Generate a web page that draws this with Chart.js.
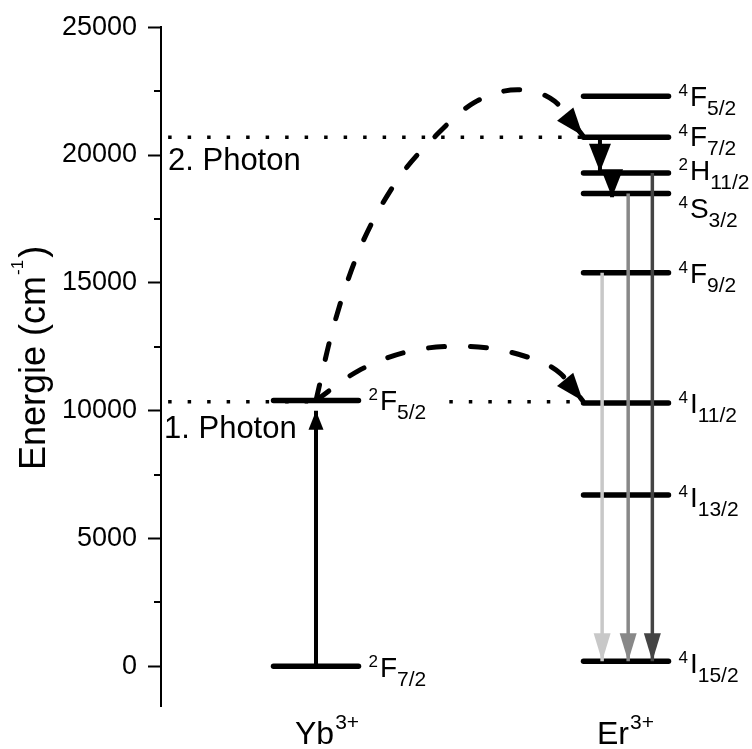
<!DOCTYPE html>
<html>
<head>
<meta charset="utf-8">
<script src="https://cdn.jsdelivr.net/npm/chart.js@4.4.0/dist/chart.umd.min.js"></script>
<style>
  html, body { margin: 0; padding: 0; background: #fff; }
  #wrap { width: 752px; height: 749px; }
</style>
</head>
<body>
<div id="wrap"><canvas id="chart" width="752" height="749"></canvas></div>
<script>
// Energieniveaus (cm-1)
const ybLevels = ['2F7/2', '2F5/2'];
const ybEnergies = [0, 10400];
const erLevels = ['4F5/2', '4F7/2', '2H11/2', '4S3/2', '4F9/2', '4I11/2', '4I13/2', '4I15/2'];
const erEnergies = [22300, 20700, 19300, 18500, 15400, 10300, 6700, 200];
const ions = ['Yb', 'Er'];
const ionCharges = ['3+', '3+'];

// Photonen (gepunktete Linien)
const photonLabels = ['1. Photon', '2. Photon'];
const photonEnergies = [10350, 20700];

// Anregung Yb 2F7/2 -> 2F5/2
const ybPumpFrom = 0;
const ybPumpTo = 10000;

// Energietransfer Yb -> Er (gestrichelte Kurven)
const transfer1X = [1.0, 1.135, 1.303, 1.471, 1.674, 1.787, 1.861];
const transfer1Y = [10400, 11550, 12330, 12520, 12130, 11470, 10380];
const transfer2X = [1.0, 1.05, 1.13, 1.25, 1.39, 1.51, 1.65, 1.77, 1.861];
const transfer2Y = [10400, 13000, 16000, 18800, 20800, 22050, 22550, 22100, 20750];

// strahlungslose Relaxation im Er
const relaxFrom = [20700, 19300];
const relaxTo = [19350, 18350];

// Emission nach 4I15/2
const emissionFrom = [15400, 18500, 19300];
const emissionTo = [200, 200, 200];

const yTicks = [0, 5000, 10000, 15000, 20000, 25000];
const yMinorTicks = [2500, 7500, 12500, 17500, 22500];

// Layout / Stil
const FONT = "'Liberation Sans', Arial, sans-serif";
const ionX = [1, 2];
const levelHalf = 0.137;
const relaxX = [1.916, 1.955];
const emissionX = [1.923, 2.007, 2.085];
const emissionColors = ['#c8c8c8', '#888888', '#444444'];
const photonSegments = [[[0.523, 1.0], [1.43, 1.861]], [[0.523, 1.861]]];
const photonLabelPos = [[3, 36], [7, 33]];
const ybLabelDy = [11, 10];
const erLabelDy = [10, 9, 7, 25, 10, 10, 12, 12];
const ionLabelDx = [-21, -29];

function pts(xs, ys) {
  return xs.map((x, i) => ({ x: x, y: ys[i] }));
}

const datasets = [];

// Niveaus
function addLevel(x, e) {
  datasets.push({
    data: pts([x - levelHalf, x + levelHalf], [e, e]),
    borderColor: '#000', borderWidth: 5.5, borderCapStyle: 'round', order: 4
  });
}
ybEnergies.forEach(e => addLevel(ionX[0], e));
erEnergies.forEach(e => addLevel(ionX[1], e));

// gepunktete Linien
photonEnergies.forEach((e, i) => {
  photonSegments[i].forEach(seg => {
    datasets.push({
      data: pts(seg, [e, e]),
      borderColor: '#000', borderWidth: 3.5, borderDash: [3.5, 16], borderCapStyle: 'butt', order: 6
    });
  });
});

// Anregungspfeil Yb
datasets.push({
  data: pts([ionX[0], ionX[0]], [ybPumpFrom, ybPumpTo]),
  borderColor: '#000', borderWidth: 4, order: 2, arrow: { len: 19, w: 15 }
});

// Emissionen
emissionFrom.forEach((e, i) => {
  datasets.push({
    data: pts([emissionX[i], emissionX[i]], [e, emissionTo[i]]),
    borderColor: emissionColors[i], borderWidth: 3.5, order: 2, arrow: { len: 28, w: 17 }
  });
});

// Relaxation
relaxFrom.forEach((e, i) => {
  datasets.push({
    data: pts([relaxX[i], relaxX[i]], [e, relaxTo[i]]),
    borderColor: '#000', borderWidth: 4, order: 1, arrow: { len: 28, w: 22 }
  });
});

// Transferkurven
[[transfer1X, transfer1Y], [transfer2X, transfer2Y]].forEach(c => {
  datasets.push({
    data: pts(c[0], c[1]),
    borderColor: '#000', borderWidth: 5, borderDash: [16, 26], borderCapStyle: 'round',
    cubicInterpolationMode: 'monotone', order: 1, arrow: { len: 28, w: 21 }
  });
});

// Pfeilspitzen
const arrowPlugin = {
  id: 'arrowHeads',
  afterDatasetsDraw(chart) {
    const ctx = chart.ctx;
    chart.data.datasets.forEach((ds, i) => {
      if (!ds.arrow) return;
      const el = chart.getDatasetMeta(i).data;
      const tip = el[el.length - 1];
      let bx = el[el.length - 2].x, by = el[el.length - 2].y;
      if (ds.cubicInterpolationMode === 'monotone' && tip.cp1x !== undefined) {
        bx = tip.cp1x; by = tip.cp1y;
      }
      const dx = tip.x - bx, dy = tip.y - by;
      const d = Math.hypot(dx, dy) || 1;
      const ux = dx / d, uy = dy / d;
      const nx = -uy, ny = ux;
      const L = ds.arrow.len, W = ds.arrow.w / 2;
      ctx.save();
      ctx.fillStyle = ds.borderColor;
      ctx.beginPath();
      ctx.moveTo(tip.x, tip.y);
      ctx.lineTo(tip.x - ux * L + nx * W, tip.y - uy * L + ny * W);
      ctx.lineTo(tip.x - ux * L - nx * W, tip.y - uy * L - ny * W);
      ctx.closePath();
      ctx.fill();
      ctx.restore();
    });
  }
};

function drawParts(ctx, x, y, parts) {
  parts.forEach(p => {
    ctx.font = p.size + 'px ' + FONT;
    x += p.gap || 0;
    ctx.fillText(p.t, x, y + (p.dy || 0));
    x += ctx.measureText(p.t).width;
  });
}

function termParts(term) {
  const m = term.match(/^(\d)([A-Z])(.+)$/);
  return [
    { t: m[1], size: 17, dy: -10 },
    { t: m[2], size: 28, gap: 2 },
    { t: m[3], size: 21, dy: 9 }
  ];
}

// Beschriftungen
const textPlugin = {
  id: 'texts',
  afterDraw(chart) {
    const ctx = chart.ctx;
    const xs = chart.scales.x, ys = chart.scales.y;
    ctx.save();
    ctx.fillStyle = '#000';
    ctx.textAlign = 'left';
    ctx.textBaseline = 'alphabetic';

    // Nebenstriche
    ctx.strokeStyle = '#000';
    ctx.lineWidth = 2;
    yMinorTicks.forEach(v => {
      const py = Math.round(ys.getPixelForValue(v));
      ctx.beginPath();
      ctx.moveTo(ys.right - 7, py);
      ctx.lineTo(ys.right, py);
      ctx.stroke();
    });

    // Niveaubezeichnungen
    ybLevels.forEach((t, i) => {
      const px = xs.getPixelForValue(ionX[0] + levelHalf) + 10;
      const py = ys.getPixelForValue(ybEnergies[i]) + ybLabelDy[i];
      drawParts(ctx, px, py, termParts(t));
    });
    erLevels.forEach((t, i) => {
      const px = xs.getPixelForValue(ionX[1] + levelHalf) + 10;
      const py = ys.getPixelForValue(erEnergies[i]) + erLabelDy[i];
      drawParts(ctx, px, py, termParts(t));
    });

    // Photonen
    photonLabels.forEach((t, i) => {
      ctx.font = '31px ' + FONT;
      ctx.fillText(t, chart.chartArea.left + photonLabelPos[i][0],
        ys.getPixelForValue(photonEnergies[i]) + photonLabelPos[i][1]);
    });

    // Ionen
    ions.forEach((t, i) => {
      drawParts(ctx, xs.getPixelForValue(ionX[i]) + ionLabelDx[i], 744, [
        { t: t, size: 32 },
        { t: ionCharges[i], size: 21, dy: -15, gap: 1 }
      ]);
    });

    // Achsentitel
    ctx.translate(45, 470);
    ctx.rotate(-Math.PI / 2);
    drawParts(ctx, 0, 0, [
      { t: 'Energie (cm', size: 36 },
      { t: '-1', size: 17, dy: -22, gap: 1 },
      { t: ')', size: 36, gap: 2 }
    ]);
    ctx.restore();
  }
};

new Chart(document.getElementById('chart'), {
  type: 'line',
  data: { datasets: datasets },
  options: {
    responsive: false,
    animation: false,
    events: [],
    layout: { padding: { left: 0, right: 17.5, top: 25, bottom: 43 } },
    elements: { point: { radius: 0 }, line: { fill: false } },
    plugins: { legend: { display: false }, tooltip: { enabled: false } },
    scales: {
      x: { type: 'linear', min: 0.5, max: 2.35, display: false },
      y: {
        type: 'linear', min: -1550, max: 25000,
        afterBuildTicks: s => { s.ticks = yTicks.map(v => ({ value: v })); },
        afterFit: s => { s.width = 161; },
        ticks: { font: { family: FONT, size: 27 }, color: '#000', padding: 11, callback: v => String(v) },
        grid: { drawOnChartArea: false, drawTicks: true, tickLength: 13, tickWidth: 2, tickColor: '#000' },
        border: { display: true, color: '#000', width: 2 }
      }
    }
  },
  plugins: [arrowPlugin, textPlugin]
});
</script>
</body>
</html>
